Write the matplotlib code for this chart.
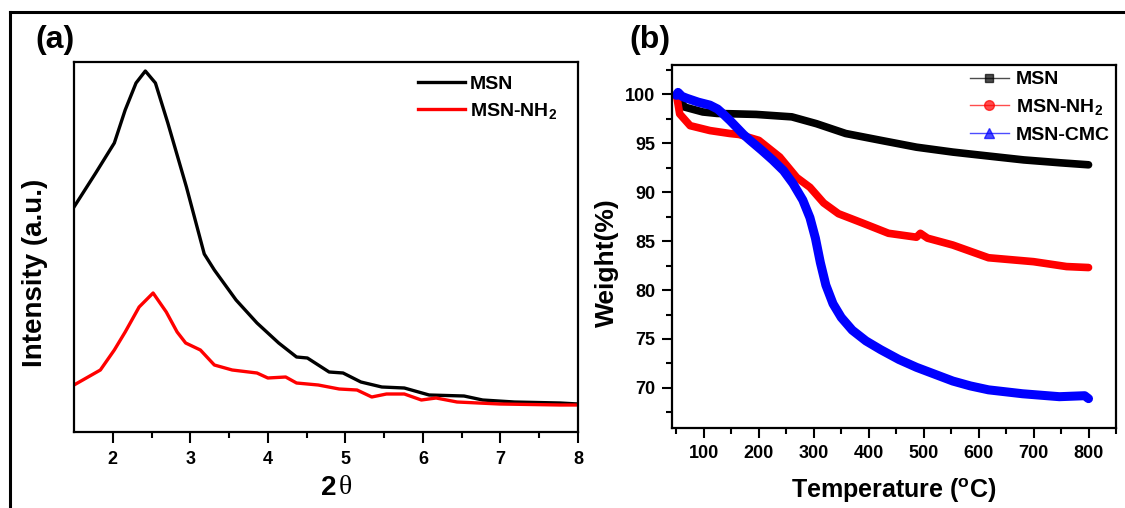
import matplotlib
matplotlib.use('Agg')
import matplotlib.pyplot as plt
from matplotlib.lines import Line2D

plt.rcParams['font.family'] = ['Liberation Sans', 'DejaVu Sans']
plt.rcParams['font.weight'] = 'bold'
plt.rcParams['mathtext.fontset'] = 'custom'
plt.rcParams['mathtext.rm'] = 'Liberation Sans:bold'
plt.rcParams['mathtext.bf'] = 'Liberation Sans:bold'
plt.rcParams['mathtext.default'] = 'rm'

# (a) XRD, intensity in arbitrary units
msn_2theta = [1.5, 1.78, 2.02, 2.16, 2.30, 2.42, 2.55, 2.71, 2.95, 3.18, 3.31, 3.59, 3.86,
              4.14, 4.37, 4.51, 4.79, 4.97, 5.20, 5.47, 5.76, 6.08, 6.53, 6.77, 7.18, 7.77, 8.0]
msn_int = [225, 259, 289, 322, 349, 361, 349, 309, 245, 178, 162, 132, 109,
           89, 75, 74, 60, 59, 50, 45, 44, 37, 36, 32, 30, 29, 28]

nh2_2theta = [1.5, 1.84, 2.02, 2.16, 2.34, 2.52, 2.69, 2.83, 2.94, 3.13, 3.31, 3.54, 3.86, 4.00,
              4.23, 4.37, 4.65, 4.92, 5.15, 5.34, 5.53, 5.76, 5.98, 6.17, 6.44, 6.99, 7.77, 8.0]
nh2_int = [47, 62, 82, 100, 125, 139, 120, 100, 89, 82, 67, 62, 59, 54,
           55, 49, 47, 43, 42, 35, 38, 38, 32, 34, 30, 28, 27, 27]

# (b) TGA
t_msn = [50, 65, 98, 124, 195, 260, 305, 358, 422, 487, 553, 585, 682, 750, 800]
w_msn = [100, 98.7, 98.2, 98.05, 97.95, 97.7, 97.0, 96.0, 95.3, 94.6, 94.1, 93.9, 93.3, 93.0, 92.8]

t_nh2 = [50, 56, 75, 111, 147, 164, 200, 238, 269, 293, 318, 345, 391, 436, 487, 494, 507,
         553, 618, 700, 760, 800]
w_nh2 = [100, 98.0, 96.8, 96.3, 96.0, 95.9, 95.3, 93.6, 91.5, 90.5, 88.9, 87.8, 86.8, 85.8, 85.4,
         85.8, 85.3, 84.6, 83.3, 82.9, 82.4, 82.3]

t_cmc = [50, 53, 60, 69, 90, 111, 125, 135, 148, 160, 172, 184, 205, 225, 245, 262, 280, 293,
         303, 312, 322, 335, 350, 370, 395, 422, 455, 487, 520, 553, 585, 618, 680, 747, 793, 800]
w_cmc = [99.9, 100.2, 99.8, 99.6, 99.2, 98.9, 98.5, 98.0, 97.3, 96.6, 95.9, 95.3, 94.3, 93.3,
         92.2, 90.9, 89.2, 87.4, 85.3, 82.8, 80.5, 78.6, 77.2, 75.9, 74.8, 73.9, 72.9, 72.1,
         71.4, 70.7, 70.2, 69.8, 69.4, 69.1, 69.2, 68.9]

W, H = 1125, 508
fig = plt.figure(figsize=(W / 100, H / 100), dpi=100)

def fx(px):
    return px / W

def fy(py):
    return 1 - py / H

# outer frame (only left and top visible)
fig.add_artist(Line2D([fx(10), fx(10)], [0, fy(12)], color='k', lw=2.2))
fig.add_artist(Line2D([fx(10), 1], [fy(12), fy(12)], color='k', lw=2.2))

# ---- panel a ----
ax1 = fig.add_axes([fx(74), fy(432), fx(578) - fx(74), fy(62) - fy(432)])
ax1.plot(msn_2theta, msn_int, color='black', lw=2.4, label='MSN')
ax1.plot(nh2_2theta, nh2_int, color='red', lw=2.4, label='MSN-NH$_2$')
ax1.set_xlim(1.5, 8)
ax1.set_ylim(0, 370)
ax1.set_yticks([])
ax1.set_xticks([2, 3, 4, 5, 6, 7, 8])
ax1.set_xticks([2.5, 3.5, 4.5, 5.5, 6.5, 7.5], minor=True)
ax1.tick_params(axis='x', which='major', direction='out', length=8, width=1.5,
                labelsize=13, pad=6)
ax1.tick_params(axis='x', which='minor', direction='out', length=4.5, width=1.5)
for s in ax1.spines.values():
    s.set_linewidth(1.6)
ax1.legend(loc='upper left', bbox_to_anchor=(0.683, 0.963), frameon=False, fontsize=14,
           handlelength=2.4, handletextpad=0.25, borderpad=0, borderaxespad=0,
           labelspacing=0.4)

fig.text(fx(35), fy(273), 'Intensity (a.u.)', rotation=90, fontsize=20,
         ha='center', va='center')
fig.text(fx(336), fy(488), '2', fontsize=20, ha='right', va='center')
fig.text(fx(339), fy(488), 'θ', fontsize=20, ha='left', va='center',
         family='Liberation Serif', weight='normal')
fig.text(fx(55), fy(40), '(a)', fontsize=23, ha='center', va='center')

# ---- panel b ----
ax2 = fig.add_axes([fx(672), fy(428), fx(1116) - fx(672), fy(65) - fy(428)])
ax2.plot(t_msn, w_msn, color='black', lw=5.5, solid_capstyle='round', solid_joinstyle='round')
ax2.plot(t_nh2, w_nh2, color='red', lw=5.5, solid_capstyle='round', solid_joinstyle='round')
ax2.plot(t_cmc, w_cmc, color='blue', lw=6.5, solid_capstyle='round', solid_joinstyle='round')
ax2.set_xlim(42, 849)
ax2.set_ylim(65.9, 103)
ax2.set_xticks([100, 200, 300, 400, 500, 600, 700, 800])
ax2.set_xticks([50, 150, 250, 350, 450, 550, 650, 750, 850], minor=True)
ax2.set_yticks([70, 75, 80, 85, 90, 95, 100])
ax2.set_yticks([67.5, 72.5, 77.5, 82.5, 87.5, 92.5, 97.5, 102.5], minor=True)
ax2.tick_params(which='major', direction='out', length=7, width=1.5, labelsize=13, pad=5)
ax2.tick_params(which='minor', direction='out', length=4, width=1.5)
for s in ax2.spines.values():
    s.set_linewidth(1.6)

handles = [
    Line2D([], [], color='black', lw=1, alpha=0.7, marker='s', markersize=6,
           markerfacecolor='black', markeredgecolor='black'),
    Line2D([], [], color='red', lw=1, alpha=0.7, marker='o', markersize=7,
           markerfacecolor='red', markeredgecolor='red'),
    Line2D([], [], color='blue', lw=1, alpha=0.7, marker='^', markersize=7,
           markerfacecolor='blue', markeredgecolor='blue'),
]
ax2.legend(handles, ['MSN', 'MSN-NH$_2$', 'MSN-CMC'], loc='upper left',
           bbox_to_anchor=(0.671, 0.984), frameon=False, fontsize=14,
           handlelength=2.0, handletextpad=0.35, borderpad=0, borderaxespad=0,
           labelspacing=0.45)

fig.text(fx(607), fy(263), 'Weight(%)', rotation=90, fontsize=19, ha='center', va='center')
fig.text(fx(894), fy(491), 'Temperature ($^{\\mathrm{o}}$C)', fontsize=18,
         ha='center', va='center')
fig.text(fx(650), fy(40), '(b)', fontsize=23, ha='center', va='center')

fig.savefig('out.png', dpi=100)
